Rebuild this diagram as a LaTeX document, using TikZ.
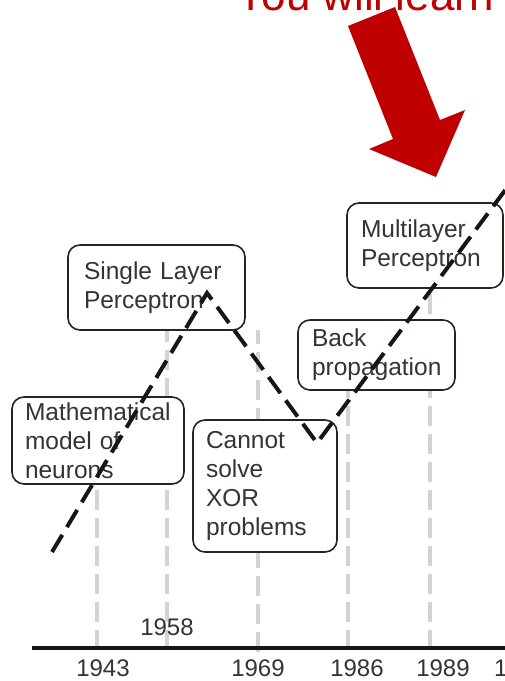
\documentclass[tikz,border=0pt]{standalone}
\usepackage{fontspec}
\setmainfont{Liberation Sans}
\definecolor{boxline}{HTML}{2A2420}
\definecolor{txt}{HTML}{363330}
\definecolor{gridgray}{HTML}{D3D3D3}
\definecolor{arrowred}{HTML}{C00000}
\definecolor{inkblack}{HTML}{1A1412}
\begin{document}
\begin{tikzpicture}[x=1pt,y=-1pt,
  box/.style={draw=boxline, line width=1.6pt, rounded corners=12pt, fill=white,
    text=txt, align=left, inner ysep=0pt,
    font=\fontsize{24.5}{29}\selectfont},
  yr/.style={text=txt, inner sep=0pt, font=\fontsize{24}{28}\selectfont},
  gline/.style={draw=gridgray, line width=4pt, dash pattern=on 20pt off 8pt},
  trend/.style={draw=inkblack, line width=4pt, dash pattern=on 20pt off 9pt},
]
\useasboundingbox (0,0) rectangle (505,681);

% gray dashed year guides
\coordinate (g1t) at (97,400);  \coordinate (g1b) at (97,650);
\coordinate (g2t) at (167,320); \coordinate (g2b) at (167,650);
\coordinate (g3t) at (258,330); \coordinate (g3b) at (258,652);
\coordinate (g4t) at (348,330); \coordinate (g4b) at (348,650);
\coordinate (g5t) at (430,288); \coordinate (g5b) at (430,650);
\foreach \i in {1,...,5} { \draw[gline] (g\i b) -- (g\i t); }

% boxes
\node[box, inner xsep=13pt, text width=146pt, minimum height=87pt] (math) at (98,440.5)
  {Mathematical\\model of\\neurons};
\node[box, inner xsep=16pt, text width=145pt, minimum height=85pt] (single) at (156.5,287.5)
  {Single Layer\\Perceptron};
\node[box, inner xsep=13pt, text width=118pt, minimum height=132pt] (xor) at (265,486)
  {Cannot\\solve\\XOR\\problems};
\node[box, inner xsep=14pt, text width=129pt, minimum height=70pt] (back) at (376.5,355)
  {Back\\propagation};
\node[box, inner xsep=14pt, text width=128pt, minimum height=85pt] (multi) at (425,245.5)
  {Multilayer\\Perceptron};

% trend line
\coordinate (p0) at (52,552);
\coordinate (p1) at (207,293);
\coordinate (p2) at (317,443);
\coordinate (p3) at (512,181);
\draw[trend] (p0) -- (p1) -- (p2) -- (p3);

% axis
\coordinate (a0) at (32,648);
\coordinate (a1) at (510,648);
\draw[inkblack, line width=4pt] (a0) -- (a1);

% year labels
\node[yr] (y1943) at (103,668.5) {1943};
\node[yr] (y1958) at (167,627) {1958};
\node[yr] (y1969) at (258,668.5) {1969};
\node[yr] (y1986) at (357,668.5) {1986};
\node[yr] (y1989) at (443,668.5) {1989};
\node[yr, anchor=west] (ycut) at (494,668.5) {1};

% red arrow
\fill[arrowred] (348,26) -- (395,7) -- (440,120) -- (465,110) -- (436,177)
  -- (369,149) -- (393,139) -- cycle;

% red heading (cut off at top)
\node[anchor=base west, text=arrowred, inner sep=0pt,
  font=\fontsize{44}{44}\selectfont] (learn) at (236,10) {You will learn};
\end{tikzpicture}
\end{document}
